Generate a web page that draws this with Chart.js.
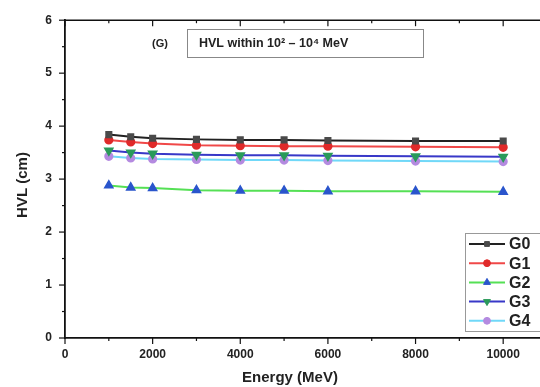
<!DOCTYPE html>
<html>
<head>
<meta charset="utf-8">
<script src="https://cdn.jsdelivr.net/npm/chart.js@4/dist/chart.umd.min.js"></script>
<style>
html,body{margin:0;padding:0;background:#fff;overflow:hidden;width:540px;height:387px;}
#wrap{width:560px;height:387px;position:relative;}
</style>
</head>
<body>
<div id="wrap"><canvas id="c" width="560" height="387"></canvas></div>
<script>
const energies = [1000, 1500, 2000, 3000, 4000, 5000, 6000, 8000, 10000];
const G0 = [3.84, 3.80, 3.77, 3.75, 3.74, 3.74, 3.73, 3.72, 3.72];
const G1 = [3.74, 3.70, 3.67, 3.64, 3.63, 3.62, 3.62, 3.61, 3.60];
const G2 = [2.88, 2.84, 2.83, 2.79, 2.78, 2.78, 2.77, 2.77, 2.76];
const G3 = [3.54, 3.50, 3.48, 3.46, 3.45, 3.45, 3.44, 3.43, 3.42];
const G4 = [3.43, 3.40, 3.38, 3.37, 3.36, 3.36, 3.35, 3.34, 3.33];
const seriesNames = ['G0', 'G1', 'G2', 'G3', 'G4'];
const xTickLabels = [0, 2000, 4000, 6000, 8000, 10000];
const yTickLabels = [0, 1, 2, 3, 4, 5, 6];
const annotationTag = '(G)';
const annotationText = 'HVL within 10\u00B2 \u2013 10\u2074 MeV';
const xTitle = 'Energy (MeV)';
const yTitle = 'HVL (cm)';

const styles = [
  {line:'#222222', fill:'#4a4a4a', pt:'rect', rot:0, r:3.6},
  {line:'#f04848', fill:'#e02a2a', pt:'circle', rot:0, r:3.6},
  {line:'#55e055', fill:'#2a55cc', pt:'triangle', rot:0, r:4.2},
  {line:'#3838c8', fill:'#2a9a5a', pt:'triangle', rot:180, r:4.2},
  {line:'#70d8f8', fill:'#b48ae0', pt:'circle', rot:0, r:3.6}
];
const values = [G0, G1, G2, G3, G4];

const datasets = seriesNames.map((n, i) => ({
  label: n,
  data: energies.map((e, j) => ({x: e, y: values[i][j]})),
  borderColor: styles[i].line,
  backgroundColor: styles[i].fill,
  pointBackgroundColor: styles[i].fill,
  pointBorderColor: styles[i].fill,
  pointStyle: styles[i].pt,
  rotation: styles[i].rot,
  pointRadius: styles[i].r,
  borderWidth: 2,
  tension: 0
}));

const FONT = '"Liberation Sans", Arial, sans-serif';

const deco = {
  id: 'deco',
  afterDraw(chart) {
    const ctx = chart.ctx;
    const xs = chart.scales.x, ys = chart.scales.y;
    const a = chart.chartArea;
    ctx.save();
    ctx.strokeStyle = '#111';
    ctx.lineWidth = 1.5;
    ctx.beginPath();
    ctx.moveTo(a.left, a.top); ctx.lineTo(a.right, a.top); ctx.stroke();
    ctx.lineWidth = 1.2;
    for (let v = 0; v <= 11000; v += 1000) {
      const px = xs.getPixelForValue(v);
      const L = v % 2000 === 0 ? 6 : 3;
      ctx.beginPath(); ctx.moveTo(px, a.bottom); ctx.lineTo(px, a.bottom + L); ctx.stroke();
      ctx.beginPath(); ctx.moveTo(px, a.top); ctx.lineTo(px, a.top + L); ctx.stroke();
    }
    for (let v = 0; v <= 6; v += 0.5) {
      const py = ys.getPixelForValue(v);
      const L = Number.isInteger(v) ? 6 : 3;
      ctx.beginPath(); ctx.moveTo(a.left - L, py); ctx.lineTo(a.left, py); ctx.stroke();
    }
    // annotation
    ctx.fillStyle = '#222';
    ctx.font = 'bold 11px ' + FONT;
    ctx.textAlign = 'left';
    ctx.textBaseline = 'middle';
    ctx.fillText(annotationTag, 152, 44);
    ctx.fillStyle = '#fff';
    ctx.fillRect(187, 29, 236, 28);
    ctx.strokeStyle = '#888';
    ctx.lineWidth = 1;
    ctx.strokeRect(187.5, 29.5, 236, 28);
    ctx.fillStyle = '#222';
    ctx.font = 'bold 12.5px ' + FONT;
    ctx.fillText(annotationText, 199, 44);
    // legend
    const lx = 465, ly = 233, lw = 90, lh = 98;
    ctx.fillStyle = '#fff';
    ctx.fillRect(lx, ly, lw, lh);
    ctx.strokeStyle = '#999';
    ctx.strokeRect(lx + 0.5, ly + 0.5, lw, lh);
    chart.data.datasets.forEach((ds, i) => {
      const cy = 244 + i * 19.2;
      ctx.strokeStyle = ds.borderColor;
      ctx.lineWidth = 2;
      ctx.beginPath(); ctx.moveTo(469, cy); ctx.lineTo(505, cy); ctx.stroke();
      ctx.fillStyle = ds.pointBackgroundColor;
      ctx.strokeStyle = ds.pointBorderColor;
      ctx.lineWidth = 1;
      Chart.helpers.drawPoint(ctx, {pointStyle: ds.pointStyle, rotation: ds.rotation, radius: ds.pointRadius * 0.95, borderWidth: 1}, 487, cy);
      ctx.fillStyle = '#222';
      ctx.font = 'bold 16px ' + FONT;
      ctx.textAlign = 'left';
      ctx.textBaseline = 'middle';
      ctx.fillText(ds.label, 509, cy + 1);
    });
    // axis titles
    ctx.fillStyle = '#222';
    ctx.font = 'bold 15px ' + FONT;
    ctx.textAlign = 'center';
    ctx.textBaseline = 'middle';
    ctx.fillText(xTitle, 290, 378);
    ctx.translate(23, 185);
    ctx.rotate(-Math.PI / 2);
    ctx.fillText(yTitle, 0, 0);
    ctx.restore();
  }
};

new Chart(document.getElementById('c'), {
  type: 'line',
  data: { datasets },
  options: {
    responsive: false,
    animation: false,
    layout: { padding: { left: 0, top: 17, right: 13, bottom: 0 } },
    plugins: { legend: { display: false }, tooltip: { enabled: false } },
    scales: {
      x: {
        type: 'linear', min: 0, max: 11000,
        afterFit(s) { s.height = 49; },
        grid: { display: false, drawTicks: false },
        border: { display: true, color: '#111', width: 1.8 },
        ticks: {
          stepSize: 1000, autoSkip: false, maxRotation: 0, padding: 9,
          color: '#222', font: { family: FONT, weight: 'bold', size: 12 },
          callback: v => xTickLabels.includes(v) ? String(v) : ''
        }
      },
      y: {
        type: 'linear', min: 0, max: 6,
        afterFit(s) { s.width = 65; },
        grid: { display: false, drawTicks: false },
        border: { display: true, color: '#111', width: 1.8 },
        ticks: {
          stepSize: 0.5, autoSkip: false, padding: 13,
          color: '#222', font: { family: FONT, weight: 'bold', size: 12 },
          callback: v => yTickLabels.includes(v) ? String(v) : ''
        }
      }
    }
  },
  plugins: [deco]
});
</script>
</body>
</html>
